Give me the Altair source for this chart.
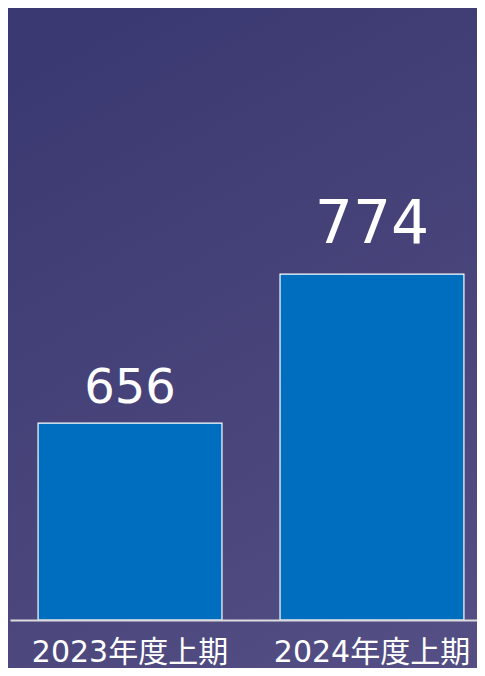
import altair as alt
import pandas as pd

periods = ["2023年度上期", "2024年度上期"]
values = [656, 774]

df = pd.DataFrame({"period": periods, "value": values})
bg = pd.DataFrame({"k": [0]})

FONT = "'DejaVu Sans', 'Noto Sans CJK JP', sans-serif"
W, H = 467, 606

x_enc = alt.X(
    "period:N",
    sort=periods,
    title=None,
    scale=alt.Scale(range=[0, 482], paddingInner=0.24, paddingOuter=0.116),
    axis=alt.Axis(
        labelAngle=0,
        labelFontSize=30,
        labelColor="#ffffff",
        labelFont=FONT,
        labelPadding=17,
        labelLimit=0,
        labelOverlap=False,
        labelBound=False,
        labelFlush=False,
        ticks=False,
        domainColor="#dcdcdc",
        domainWidth=2,
        grid=False,
        zindex=1,
    ),
)
y_scale = alt.Scale(domain=[500, 980], zero=False, nice=False)

background = alt.Chart(bg).mark_rect(
    fill=alt.Gradient(
        gradient="linear",
        stops=[
            alt.GradientStop(color="#3b3971", offset=0),
            alt.GradientStop(color="#534e83", offset=1),
        ],
        x1=0.3, y1=0, x2=0.7, y2=1,
    )
).encode(
    x=alt.value(-10), x2=alt.value(W + 30),
    y=alt.value(-20), y2=alt.value(H + 80),
)

bars = alt.Chart(df).mark_bar(
    color="#006ebe", stroke="#ffffff", strokeWidth=1.2
).encode(
    x=x_enc,
    y=alt.Y("value:Q", scale=y_scale, axis=None),
    y2=alt.datum(500),
)

label_small = alt.Chart(df).transform_filter(
    alt.datum.period == periods[0]
).mark_text(
    font=FONT, fontSize=48, color="#ffffff", baseline="alphabetic", dy=-20
).encode(
    x=alt.X("period:N", sort=periods),
    y=alt.Y("value:Q", scale=y_scale),
    text=alt.Text("value:Q"),
)

label_big = alt.Chart(df).transform_filter(
    alt.datum.period == periods[1]
).mark_text(
    font=FONT, fontSize=60, color="#ffffff", baseline="alphabetic", dy=-31
).encode(
    x=alt.X("period:N", sort=periods),
    y=alt.Y("value:Q", scale=y_scale),
    text=alt.Text("value:Q"),
)

chart = alt.layer(background, bars, label_small, label_big).properties(
    width=W,
    height=H,
    padding={"left": 2, "top": 6, "right": 0, "bottom": 48},
    autosize=alt.AutoSizeParams(type="none"),
    background="#3b3971",
).configure_view(stroke=None)

chart.save("out.html", embed_options={"renderer": "svg", "actions": False})
